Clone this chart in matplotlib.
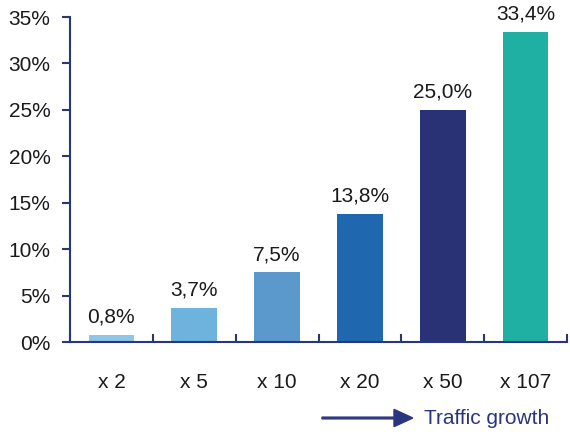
import matplotlib
matplotlib.use("Agg")
import matplotlib.pyplot as plt
from matplotlib.ticker import MultipleLocator, FuncFormatter

plt.rcParams['font.family'] = ['Liberation Sans', 'DejaVu Sans']

categories = ["x 2", "x 5", "x 10", "x 20", "x 50", "x 107"]
values = [0.8, 3.7, 7.5, 13.8, 25.0, 33.4]
labels = ["0,8%", "3,7%", "7,5%", "13,8%", "25,0%", "33,4%"]
colors = ["#8EC5E8", "#6DB3DD", "#5B99CC", "#1F68AF", "#2A3276", "#20AFA3"]
axis_color = "#2A3580"
text_color = "#1a1a1a"
fs = 15

fig = plt.figure(figsize=(5.7, 4.32), dpi=100)
ax = fig.add_axes([0.1228, 0.2083, 0.872, 0.7523])

x = list(range(len(categories)))
ax.bar(x, values, width=0.55, color=colors, zorder=2)

for xi, v, lab in zip(x, values, labels):
    ax.annotate(lab, (xi, v), xytext=(0, 6), textcoords="offset points",
                ha="center", va="bottom", fontsize=fs, color=text_color)

ax.set_xlim(-0.5, len(categories) - 0.5)
ax.set_ylim(0, 35)
ax.yaxis.set_major_locator(MultipleLocator(5))
ax.yaxis.set_major_formatter(FuncFormatter(lambda v, p: f"{int(v)}%"))

ax.set_xticks([i - 0.5 for i in range(len(categories) + 1)], minor=False)
ax.set_xticklabels([])
ax.set_xticks(x, minor=True)
ax.set_xticklabels(categories, minor=True)
ax.tick_params(axis="x", which="minor", length=0, pad=22, labelsize=fs, labelcolor=text_color)
ax.tick_params(axis="x", which="major", direction="in", length=6, width=1.5, color=axis_color)
ax.tick_params(axis="y", direction="out", length=6, width=1.5, color=axis_color,
               labelsize=fs, labelcolor=text_color, pad=8)

for side in ("top", "right"):
    ax.spines[side].set_visible(False)
for side in ("left", "bottom"):
    ax.spines[side].set_color(axis_color)
    ax.spines[side].set_linewidth(1.5)

# Direction arrow for the x axis
fig.patches.append(matplotlib.patches.FancyArrow(
    322 / 570, 1 - 418 / 432, 72 / 570, 0, width=0.004, head_width=0.04,
    head_length=0.033, length_includes_head=False, color=axis_color,
    transform=fig.transFigure))
fig.text(424 / 570, 1 - 418 / 432, "Traffic growth", color=axis_color,
         fontsize=fs, va="center", ha="left")

fig.savefig("out.png", dpi=100)
